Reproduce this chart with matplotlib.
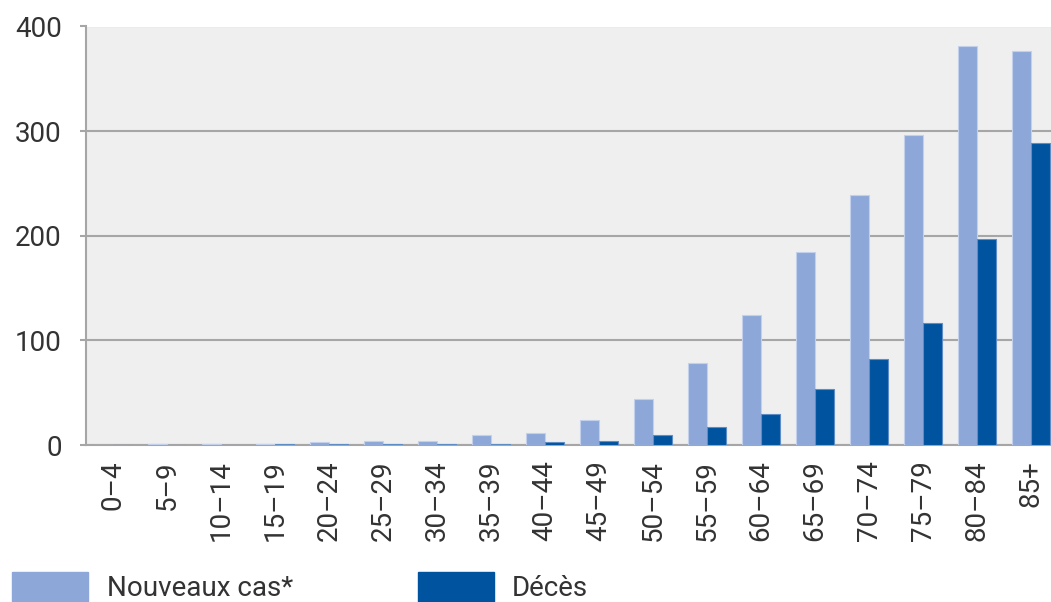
import matplotlib
matplotlib.use("Agg")
import matplotlib.pyplot as plt
from matplotlib.patches import Rectangle
import numpy as np

plt.rcParams['font.family'] = ['Roboto', 'DejaVu Sans']

age_groups = ["0–4", "5–9", "10–14", "15–19", "20–24", "25–29", "30–34", "35–39",
              "40–44", "45–49", "50–54", "55–59", "60–64", "65–69", "70–74",
              "75–79", "80–84", "85+"]
new_cases = [0.3, 1, 1, 1, 2.5, 4, 4, 10, 11, 24, 44, 78, 124, 184, 239, 296, 381, 377]
deaths = [0, 0, 0, 1, 1, 1, 1, 1, 3, 4, 10, 17, 30, 54, 82, 117, 197, 289]
y_ticks = [0, 100, 200, 300, 400]
legend_labels = ["Nouveaux cas*", "Décès"]

light_blue = "#8DA7D8"
dark_blue = "#00539E"
text_color = "#333333"
axis_gray = "#A6A6A6"

W, H = 1051, 602
fig = plt.figure(figsize=(W / 100, H / 100), dpi=100)
ax = fig.add_axes([86 / W, 1 - 445 / H, 1 - 86 / W, (445 - 26.5) / H])
ax.set_facecolor("#EFEFEF")

x = np.arange(len(age_groups))
bw = 0.355
ax.bar(x - bw / 2, new_cases, bw, color=light_blue, edgecolor="#C3D0EC",
       linewidth=0.8, zorder=3)
ax.bar(x + bw / 2, deaths, bw, color=dark_blue, edgecolor="#5E8CC4",
       linewidth=0.8, zorder=3)

ax.set_xlim(-0.5, 17.37)
ax.set_ylim(0, 400)
ax.set_yticks(y_ticks)
ax.set_yticklabels([str(v) for v in y_ticks])
ax.set_xticks(x)
ax.set_xticklabels(age_groups, rotation=90, va="top", ha="center")

ax.yaxis.grid(True, color=axis_gray, linewidth=1.5, zorder=1)
ax.set_axisbelow(True)
for side in ("top", "right"):
    ax.spines[side].set_visible(False)
for side in ("left", "bottom"):
    ax.spines[side].set_color(axis_gray)
    ax.spines[side].set_linewidth(1.5)

ax.tick_params(axis="y", length=4.5, width=1.5, color=axis_gray, pad=13,
               labelsize=20, labelcolor=text_color)
ax.tick_params(axis="x", length=0, pad=11, labelsize=20, labelcolor=text_color)

# legend drawn as swatches with labels along the bottom edge
swatches = [(12, light_blue), (418, dark_blue)]
label_x = [107, 512]
for (sx, col), lx, txt in zip(swatches, label_x, legend_labels):
    fig.patches.append(Rectangle((sx / W, 0), 76 / W, (H - 572) / H,
                                 transform=fig.transFigure, color=col))
    fig.text(lx / W, 1 - 588 / H, txt, fontsize=20,
             color=text_color, va="center", ha="left")

fig.savefig("out.png", dpi=100)
